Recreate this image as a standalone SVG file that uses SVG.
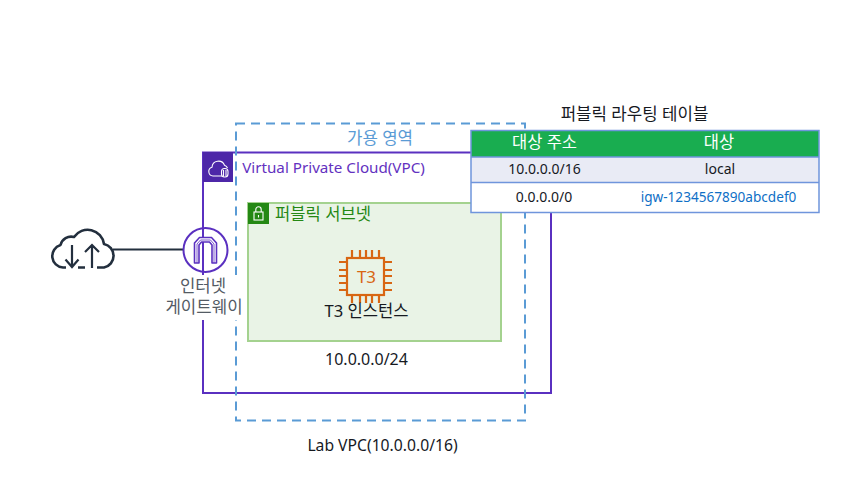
<svg xmlns="http://www.w3.org/2000/svg" width="868" height="482" viewBox="0 0 868 482">
<defs>
<style>
text{font-family:"Noto Sans","Noto Sans CJK KR",sans-serif;text-anchor:middle;font-size:14px;fill:#16191f}
.cell{font-size:14px}
.line{fill:none}
.ico{fill:none;stroke:#fff;stroke-width:1.1}
.chip{fill:none;stroke:#d86613;stroke-width:2.2}
</style>
<filter id="sh" x="-10%" y="-200%" width="120%" height="500%"><feGaussianBlur stdDeviation="1.2"/></filter>
</defs>
<rect width="868" height="482" fill="#fff"/>
<g id="connectors">
<path class="line" d="M113 251.500H183" stroke="#bbb" stroke-width="2" filter="url(#sh)"/>
<path class="line" d="M113 249.500H183" stroke="#232f3e" stroke-width="1.800"/>
</g>
<g id="vpc">
<path class="line" d="M203 152.500H551V393H203Z" stroke="#5a30c0" stroke-width="2"/>
<rect x="203" y="152" width="30" height="30" fill="#4d27a8"/>
<path class="ico" d="M222 176h-9a4.500 4.500 0 0 1-1-8.800a6.500 6.500 0 0 1 12.500-2a4.500 4.500 0 0 1 3 2.800"/>
<rect class="ico" x="221.500" y="168.500" width="6.500" height="8.500" rx="3"/>
<path class="ico" d="M223.500 170v6M226 170v6"/>
<text x="333.500" y="173" style="fill:#6331c0;font-size:15.200px">Virtual Private Cloud(VPC)</text>
<text x="382.500" y="451" style="font-size:15.700px">Lab VPC(10.0.0.0/16)</text>
</g>
<g id="az">
<rect class="line" x="236" y="123.500" width="289" height="297" stroke="#5a9bd5" stroke-width="2" stroke-dasharray="9 6"/>
<text x="380" y="144" style="fill:#5a9bd5;font-size:16.800px">가용 영역</text>
</g>
<g id="subnet">
<rect x="248" y="203" width="253" height="138" fill="#e9f3e6" stroke="#a4d28f" stroke-width="2"/>
<rect x="248" y="203" width="21" height="21" fill="#248814"/>
<rect class="ico" x="254" y="212" width="9" height="8"/>
<path class="ico" d="M255.800 212v-2.500a2.700 2.700 0 0 1 5.400 0v2.500M258.500 215v2.500"/>
<text x="323" y="220" style="fill:#248814;font-size:16.600px">퍼블릭 서브넷</text>
<text x="366.500" y="365" style="font-size:16px">10.0.0.0/24</text>
</g>
<g id="t3">
<rect class="chip" x="347" y="258" width="37" height="37"/>
<path class="chip" d="M352 258v-8M360 258v-8M366 258v-8M372 258v-8M379 258v-8M352 295v8M360 295v8M366 295v8M372 295v8M379 295v8M347 262h-8M347 270h-8M347 276h-8M347 283h-8M347 290h-8M384 262h8M384 270h8M384 276h8M384 283h8M384 290h8"/>
<text x="366.500" y="282.500" style="fill:#d86613;font-size:17px">T3</text>
<text x="366.500" y="317" style="font-size:16.600px">T3 인스턴스</text>
</g>
<g id="igw">
<rect x="165" y="275" width="78" height="45" fill="#fff"/>
<circle cx="205.500" cy="250" r="22" fill="none" stroke="#5a30c0" stroke-width="2"/>
<path d="M194.500 263V243L199.500 237.500H211.500L216.500 243V263H212V245L209.500 242H201.500L199 245V263Z" fill="#fff" stroke="#5a30c0" stroke-width="1.600" stroke-linejoin="round"/>
<path d="M197 263V244L200.500 240H210.500L214 244V263" fill="none" stroke="#5a30c0" stroke-width="0.800"/>
<text x="203" y="292" style="fill:#545b64;font-size:16.700px">인터넷</text>
<text x="204" y="313" style="fill:#545b64;font-size:16.800px">게이트웨이</text>
</g>
<g id="internet">
<path d="M66 267.500H63a11.500 11.500 0 0 1-2.500-22.500a11 11 0 0 1 13.500-8a16.500 16.500 0 0 1 30 7a12 12 0 0 1 0 23.500H97M85 267.500H78" fill="none" stroke="#232f3e" stroke-width="2.600" stroke-linejoin="round"/>
<path d="M72 245V267M65.500 259.500L72 267L78.500 259.500M92 268V245M85 252L92 245L99 252" fill="none" stroke="#232f3e" stroke-width="2.200"/>
</g>
<g id="table">
<text x="634.500" y="120" style="font-size:16.800px">퍼블릭 라우팅 테이블</text>
<rect x="471" y="130.500" width="348" height="26.500" fill="#19ad50"/>
<rect x="471" y="157" width="348" height="25.500" fill="#e9ebf5"/>
<rect x="471" y="182.500" width="348" height="30" fill="#fff"/>
<path class="line" d="M471 130.500H819V212.500H471ZM471 157H819M471 182.500H819" stroke="#6f95dc" stroke-width="1.500"/>
<text x="544.500" y="148" style="fill:#fff;font-size:16.500px">대상 주소</text>
<text x="719" y="148" style="fill:#fff;font-size:16.500px">대상</text>
<text class="cell" x="544.500" y="174">10.0.0.0/16</text>
<text class="cell" x="720" y="174">local</text>
<text class="cell" x="544" y="202">0.0.0.0/0</text>
<text class="cell" x="718.500" y="202" style="fill:#0f6fc6;font-size:13.600px">igw-1234567890abcdef0</text>
</g>
</svg>
